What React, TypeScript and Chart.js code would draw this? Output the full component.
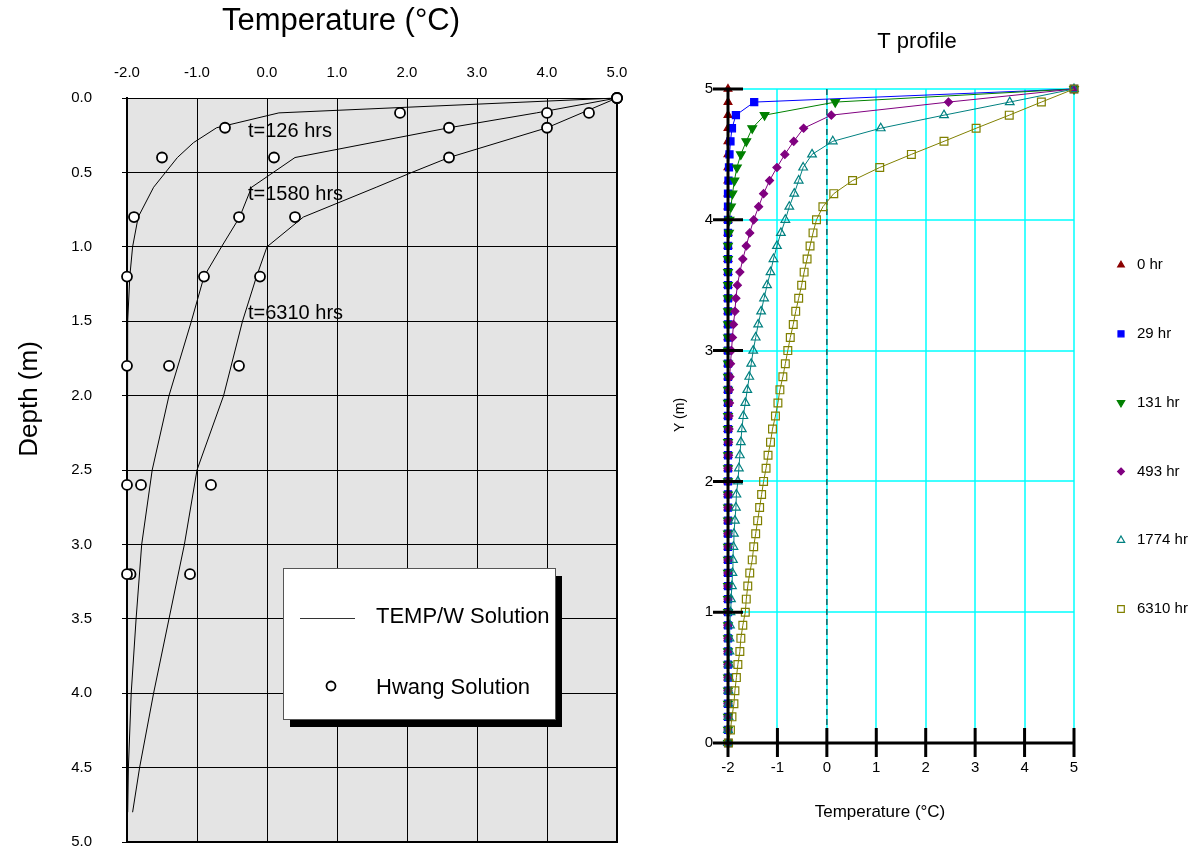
import React, { useEffect, useRef } from 'react';
import { Chart, registerables } from 'chart.js';

Chart.register(...registerables);

const FONT = "'Liberation Sans', Arial, Helvetica, sans-serif";

// ---------- Left panel data (TEMP/W vs Hwang) ----------
const temwDepth = [0, 0.1, 0.2, 0.3, 0.4, 0.5, 0.6, 0.8, 1.0, 1.2, 1.5, 2.0, 2.5, 3.0, 3.5, 4.0, 4.5, 4.8];
const temw126 = [5.0, 0.17, -0.72, -1.05, -1.28, -1.45, -1.62, -1.84, -1.92, -1.96, -1.99, -2.0, -2.0, -2.0, -2.0, -2.0, -2.0, -2.0];
const temw1580 = [5.0, 3.85, 2.6, 1.5, 0.4, 0.09, -0.22, -0.39, -0.65, -0.9, -1.08, -1.4, -1.64, -1.79, -1.87, -1.94, -1.98, -1.99];
const temw6310 = [5.0, 4.5, 4.0, 3.3, 2.6, 2.07, 1.56, 0.52, 0.0, -0.15, -0.35, -0.62, -1.0, -1.18, -1.4, -1.62, -1.82, -1.92];

const hwangDepth = [0.0, 0.1, 0.2, 0.4, 0.8, 1.2, 1.8, 2.6, 3.2];
const hwang126 = [5.0, 1.9, -0.6, -1.5, -1.9, -2.0, -2.0, -2.0, -2.0];
const hwang1580 = [5.0, 4.0, 2.6, 0.1, -0.4, -0.9, -1.4, -1.8, -1.95];
const hwang6310 = [5.0, 4.6, 4.0, 2.6, 0.4, -0.1, -0.4, -0.8, -1.1];

const leftCurveLabels = ['t=126 hrs', 't=1580 hrs', 't=6310 hrs'];
const leftLegendLabels = ['TEMP/W Solution', 'Hwang Solution'];

// ---------- Right panel data (T profile) ----------
const depthNodes = [0.0, 0.1, 0.2, 0.3, 0.4, 0.5, 0.6, 0.7, 0.8, 0.9, 1.0, 1.1, 1.2, 1.3, 1.4, 1.5, 1.6, 1.7, 1.8, 1.9, 2.0, 2.1, 2.2, 2.3, 2.4, 2.5, 2.6, 2.7, 2.8, 2.9, 3.0, 3.1, 3.2, 3.3, 3.4, 3.5, 3.6, 3.7, 3.8, 3.9, 4.0, 4.1, 4.2, 4.3, 4.4, 4.5, 4.6, 4.7, 4.8, 4.9, 5.0];

const temp0hr = [-2.0, -2.0, -2.0, -2.0, -2.0, -2.0, -2.0, -2.0, -2.0, -2.0, -2.0, -2.0, -2.0, -2.0, -2.0, -2.0, -2.0, -2.0, -2.0, -2.0, -2.0, -2.0, -2.0, -2.0, -2.0, -2.0, -2.0, -2.0, -2.0, -2.0, -2.0, -2.0, -2.0, -2.0, -2.0, -2.0, -2.0, -2.0, -2.0, -2.0, -2.0, -2.0, -2.0, -2.0, -2.0, -2.0, -2.0, -2.0, -2.0, -2.0, -2.0];
const temp29hr = [-2.0, -2.0, -2.0, -2.0, -2.0, -2.0, -2.0, -2.0, -2.0, -2.0, -2.0, -2.0, -2.0, -2.0, -2.0, -2.0, -2.0, -2.0, -2.0, -2.0, -2.0, -2.0, -2.0, -2.0, -2.0, -2.0, -2.0, -2.0, -2.0, -2.0, -2.0, -2.0, -2.0, -2.0, -2.0, -2.0, -2.0, -2.0, -2.0, -2.0, -2.0, -2.0, -2.0, -1.99, -1.98, -1.97, -1.95, -1.92, -1.84, -1.47, 5.0];
const temp131hr = [-2.0, -2.0, -2.0, -2.0, -2.0, -2.0, -2.0, -2.0, -2.0, -2.0, -2.0, -2.0, -2.0, -2.0, -2.0, -2.0, -2.0, -2.0, -2.0, -2.0, -2.0, -2.0, -2.0, -2.0, -2.0, -2.0, -2.0, -2.0, -2.0, -2.0, -2.0, -2.0, -2.0, -2.0, -2.0, -2.0, -2.0, -2.0, -2.0, -1.98, -1.97, -1.94, -1.91, -1.87, -1.82, -1.74, -1.63, -1.51, -1.26, 0.17, 5.0];
const temp493hr = [-2.0, -2.0, -2.0, -2.0, -2.0, -2.0, -2.0, -2.0, -2.0, -2.0, -2.0, -2.0, -2.0, -2.0, -2.0, -2.0, -2.0, -2.0, -2.0, -2.0, -2.0, -2.0, -1.99, -1.99, -1.98, -1.98, -1.97, -1.97, -1.96, -1.95, -1.93, -1.91, -1.89, -1.86, -1.84, -1.81, -1.76, -1.70, -1.63, -1.56, -1.48, -1.38, -1.28, -1.16, -1.01, -0.85, -0.67, -0.47, 0.09, 2.46, 5.0];
const temp1774hr = [-2.0, -2.0, -1.99, -1.99, -1.99, -1.98, -1.98, -1.97, -1.97, -1.96, -1.95, -1.94, -1.92, -1.91, -1.90, -1.89, -1.88, -1.86, -1.84, -1.83, -1.80, -1.78, -1.76, -1.74, -1.72, -1.69, -1.65, -1.61, -1.57, -1.53, -1.49, -1.44, -1.39, -1.33, -1.27, -1.21, -1.14, -1.08, -1.01, -0.93, -0.84, -0.76, -0.66, -0.57, -0.48, -0.30, 0.12, 1.09, 2.37, 3.70, 5.0];
const temp6310hr = [-1.99, -1.95, -1.92, -1.88, -1.86, -1.83, -1.80, -1.76, -1.74, -1.70, -1.65, -1.63, -1.60, -1.56, -1.51, -1.48, -1.44, -1.40, -1.36, -1.32, -1.28, -1.23, -1.19, -1.14, -1.10, -1.04, -0.99, -0.95, -0.89, -0.84, -0.79, -0.74, -0.68, -0.63, -0.57, -0.51, -0.46, -0.40, -0.34, -0.28, -0.21, -0.08, 0.14, 0.52, 1.07, 1.71, 2.37, 3.02, 3.69, 4.34, 5.0];

const seriesLabels = ['0 hr', '29 hr', '131 hr', '493 hr', '1774 hr', '6310 hr'];
const seriesValues = [temp0hr, temp29hr, temp131hr, temp493hr, temp1774hr, temp6310hr];

const tempTicksLeft = [-2, -1, 0, 1, 2, 3, 4, 5];

// ---------- helpers ----------
function toPoints(xs: number[], ys: number[]) {
  return xs.map((x, i) => ({ x, y: ys[i] }));
}

function drawMarker(ctx: CanvasRenderingContext2D, style: string, x: number, y: number, r: number, rotation: number, fill: string | null, stroke: string | null, lw: number) {
  ctx.save();
  ctx.beginPath();
  if (style === 'triangle') {
    let rad = (rotation * Math.PI) / 180;
    for (let i = 0; i < 3; i++) {
      const px = x + Math.sin(rad) * r;
      const py = y - Math.cos(rad) * r;
      if (i === 0) ctx.moveTo(px, py);
      else ctx.lineTo(px, py);
      rad += (2 * Math.PI) / 3;
    }
    ctx.closePath();
  } else if (style === 'rect') {
    const s = r * Math.SQRT1_2;
    ctx.rect(x - s, y - s, 2 * s, 2 * s);
  } else if (style === 'rectRot') {
    ctx.moveTo(x, y - r);
    ctx.lineTo(x + r, y);
    ctx.lineTo(x, y + r);
    ctx.lineTo(x - r, y);
    ctx.closePath();
  } else {
    ctx.arc(x, y, r, 0, Math.PI * 2);
  }
  if (fill) {
    ctx.fillStyle = fill;
    ctx.fill();
  }
  if (stroke) {
    ctx.strokeStyle = stroke;
    ctx.lineWidth = lw;
    ctx.stroke();
  }
  ctx.restore();
}

function text(ctx: CanvasRenderingContext2D, s: string, x: number, y: number, size: number, align: CanvasTextAlign = 'left', rotate = 0) {
  ctx.save();
  ctx.fillStyle = '#000';
  ctx.font = `${size}px ${FONT}`;
  ctx.textAlign = align;
  ctx.textBaseline = 'middle';
  ctx.translate(x, y);
  if (rotate) ctx.rotate(rotate);
  ctx.fillText(s, 0, 0);
  ctx.restore();
}

// ---------- left chart plugin ----------
const leftDecor = {
  id: 'leftDecor',
  beforeDraw(chart: any) {
    const { ctx, chartArea: a } = chart;
    ctx.save();
    ctx.fillStyle = '#e4e4e4';
    ctx.fillRect(a.left, a.top, a.right - a.left, a.bottom - a.top);
    ctx.restore();
  },
  beforeDatasetsDraw(chart: any) {
    const { ctx, chartArea: a } = chart;
    ctx.save();
    ctx.strokeStyle = '#000';
    ctx.lineWidth = 2;
    ctx.beginPath();
    ctx.moveTo(a.left, a.top);
    ctx.lineTo(a.left, a.bottom);
    ctx.lineTo(a.right, a.bottom);
    ctx.lineTo(a.right, a.top);
    ctx.stroke();
    ctx.restore();
  },
  afterDatasetsDraw(chart: any) {
    const { ctx, chartArea: a } = chart;
    // curve labels
    text(ctx, leftCurveLabels[0], a.left + 121, a.top + 33, 20);
    text(ctx, leftCurveLabels[1], a.left + 121, a.top + 96, 20);
    text(ctx, leftCurveLabels[2], a.left + 121, a.top + 215, 20);
    // legend box with shadow
    const bx = a.left + 156;
    const by = a.top + 470;
    const bw = 272;
    const bh = 151;
    ctx.save();
    ctx.fillStyle = '#000';
    ctx.fillRect(bx + 7, by + 8, bw, bh);
    ctx.fillStyle = '#fff';
    ctx.fillRect(bx, by, bw, bh);
    ctx.strokeStyle = '#555';
    ctx.lineWidth = 1;
    ctx.strokeRect(bx + 0.5, by + 0.5, bw, bh);
    ctx.strokeStyle = '#333';
    ctx.beginPath();
    ctx.moveTo(bx + 17, by + 50.5);
    ctx.lineTo(bx + 72, by + 50.5);
    ctx.stroke();
    ctx.restore();
    drawMarker(ctx, 'circle', bx + 48, by + 118, 4.5, 0, '#fff', '#000', 1.8);
    text(ctx, leftLegendLabels[0], bx + 93, by + 49, 22);
    text(ctx, leftLegendLabels[1], bx + 93, by + 120, 22);
  },
  afterDraw(chart: any) {
    const { ctx, chartArea: a } = chart;
    text(ctx, 'Temperature (°C)', a.left + 214, a.top - 77, 31, 'center');
    text(ctx, 'Depth (m)', a.left - 97, a.top + 301, 26, 'center', -Math.PI / 2);
  },
};

// ---------- right chart plugin ----------
const rightDecor = {
  id: 'rightDecor',
  beforeDatasetsDraw(chart: any) {
    const { ctx, chartArea: a, scales } = chart;
    const x0 = scales.x.getPixelForValue(0);
    ctx.save();
    ctx.strokeStyle = '#1f5e5e';
    ctx.lineWidth = 1.5;
    ctx.setLineDash([6, 4]);
    ctx.beginPath();
    ctx.moveTo(x0, a.top);
    ctx.lineTo(x0, a.bottom);
    ctx.stroke();
    ctx.restore();
  },
  afterDatasetsDraw(chart: any) {
    const { ctx, chartArea: a, scales } = chart;
    ctx.save();
    ctx.strokeStyle = '#000';
    ctx.lineWidth = 3;
    ctx.beginPath();
    ctx.moveTo(a.left, a.top - 1);
    ctx.lineTo(a.left, a.bottom + 14);
    ctx.moveTo(a.left, a.bottom);
    ctx.lineTo(a.right + 1, a.bottom);
    scales.y.ticks.forEach((t: any) => {
      const yy = scales.y.getPixelForValue(t.value);
      ctx.moveTo(a.left - 15, yy);
      ctx.lineTo(a.left + 15, yy);
    });
    scales.x.ticks.forEach((t: any) => {
      const xx = scales.x.getPixelForValue(t.value);
      ctx.moveTo(xx, a.bottom - 15);
      ctx.lineTo(xx, a.bottom + 14);
    });
    ctx.stroke();
    ctx.restore();
  },
  afterDraw(chart: any) {
    const { ctx, chartArea: a } = chart;
    text(ctx, 'T profile', a.left + 189, a.top - 47, 22, 'center');
    text(ctx, 'Temperature (°C)', a.left + 152, a.bottom + 69, 17, 'center');
    text(ctx, 'Y (m)', a.left - 48, a.top + 326, 14, 'center', -Math.PI / 2);
    // legend
    chart.data.datasets.forEach((ds: any, i: number) => {
      const y = a.top + 176 + i * 68.8;
      const filled = ds.pointBackgroundColor !== 'rgba(0,0,0,0)';
      drawMarker(ctx, ds.pointStyle, a.right + 47, y, ds.pointRadius * 0.85, ds.pointRotation || 0, filled ? ds.pointBackgroundColor : '#fff', ds.pointBorderColor, ds.pointBorderWidth);
      text(ctx, ds.label, a.right + 63, y, 15);
    });
  },
};

const CYAN = 'rgba(0,255,255,0.75)';

export default function App() {
  const leftRef = useRef<HTMLCanvasElement>(null);
  const rightRef = useRef<HTMLCanvasElement>(null);

  useEffect(() => {
    Chart.defaults.font.family = FONT;
    Chart.defaults.color = '#000';

    const lineStyle = { showLine: true, borderColor: '#000', borderWidth: 1, pointRadius: 0, clip: false as any, order: 2 };
    const circleStyle = { showLine: false, pointStyle: 'circle', pointRadius: 5, pointBackgroundColor: '#fff', pointBorderColor: '#000', pointBorderWidth: 1.8, clip: false as any, order: 1 };

    const left = new Chart(leftRef.current as HTMLCanvasElement, {
      type: 'scatter',
      data: {
        datasets: [
          { label: 'TEMP/W 126', data: toPoints(temw126, temwDepth), ...lineStyle },
          { label: 'TEMP/W 1580', data: toPoints(temw1580, temwDepth), ...lineStyle },
          { label: 'TEMP/W 6310', data: toPoints(temw6310, temwDepth), ...lineStyle },
          { label: 'Hwang 126', data: toPoints(hwang126, hwangDepth), ...circleStyle },
          { label: 'Hwang 1580', data: toPoints(hwang1580, hwangDepth), ...circleStyle },
          { label: 'Hwang 6310', data: toPoints(hwang6310, hwangDepth), ...circleStyle },
        ] as any,
      },
      options: {
        responsive: false,
        animation: false,
        events: [],
        layout: { padding: { left: 0, top: 0, right: 43, bottom: 9 } },
        plugins: { legend: { display: false }, tooltip: { enabled: false } },
        scales: {
          x: {
            type: 'linear',
            position: 'top',
            min: -2,
            max: 5,
            afterBuildTicks: (s: any) => {
              s.ticks = tempTicksLeft.map((v) => ({ value: v }));
            },
            ticks: { font: { size: 15 }, color: '#000', padding: 16, callback: (v: any) => Number(v).toFixed(1) },
            grid: { color: '#000', lineWidth: 1, drawTicks: false },
            border: { display: true, color: '#000', width: 1 },
            afterFit: (s: any) => {
              s.height = 98;
              s.paddingLeft = 0;
              s.paddingRight = 0;
            },
          },
          y: {
            type: 'linear',
            reverse: true,
            min: 0,
            max: 5,
            ticks: { stepSize: 0.5, font: { size: 15 }, color: '#000', padding: 30, callback: (v: any) => Number(v).toFixed(1) },
            grid: { color: '#000', lineWidth: 1, drawTicks: true, tickLength: 5, tickColor: '#000' },
            border: { display: true, color: '#000', width: 2 },
            afterFit: (s: any) => {
              s.width = 127;
              s.paddingTop = 0;
              s.paddingBottom = 0;
            },
          },
        },
      } as any,
      plugins: [leftDecor],
    });

    const rightStyles = [
      { pointStyle: 'triangle', pointRadius: 4.5, pointRotation: 0, filled: true, color: '#8b0000', order: 5 },
      { pointStyle: 'rect', pointRadius: 5, pointRotation: 0, filled: true, color: '#0000ff', order: 4 },
      { pointStyle: 'triangle', pointRadius: 5, pointRotation: 180, filled: true, color: '#008000', order: 3 },
      { pointStyle: 'rectRot', pointRadius: 4, pointRotation: 0, filled: true, color: '#800080', order: 2 },
      { pointStyle: 'triangle', pointRadius: 5, pointRotation: 0, filled: false, color: '#008080', order: 1 },
      { pointStyle: 'rect', pointRadius: 5.5, pointRotation: 0, filled: false, color: '#808000', order: 0 },
    ];

    const right = new Chart(rightRef.current as HTMLCanvasElement, {
      type: 'scatter',
      data: {
        datasets: seriesValues.map((vals, i) => {
          const st = rightStyles[i];
          return {
            label: seriesLabels[i],
            data: toPoints(vals, depthNodes),
            showLine: true,
            borderColor: st.color,
            borderWidth: 1,
            pointStyle: st.pointStyle,
            pointRadius: st.pointRadius,
            pointRotation: st.pointRotation,
            pointBackgroundColor: st.filled ? st.color : 'rgba(0,0,0,0)',
            pointBorderColor: st.color,
            pointBorderWidth: 1.2,
            clip: false,
            order: st.order,
          };
        }) as any,
      },
      options: {
        responsive: false,
        animation: false,
        events: [],
        layout: { padding: { left: 0, top: 89, right: 123, bottom: 0 } },
        plugins: { legend: { display: false }, tooltip: { enabled: false } },
        scales: {
          x: {
            type: 'linear',
            position: 'bottom',
            min: -2,
            max: 5,
            ticks: { stepSize: 1, font: { size: 15 }, color: '#000', padding: 16 },
            grid: {
              color: (c: any) => (c.tick && c.tick.value === -2 ? 'rgba(0,0,0,0)' : CYAN),
              lineWidth: 2,
              drawTicks: false,
            },
            border: { display: false },
            afterFit: (s: any) => {
              s.height = 108;
              s.paddingLeft = 0;
              s.paddingRight = 0;
            },
          },
          y: {
            type: 'linear',
            min: 0,
            max: 5,
            ticks: { stepSize: 1, font: { size: 15 }, color: '#000', padding: 15 },
            grid: {
              color: (c: any) => (c.tick && c.tick.value === 0 ? 'rgba(0,0,0,0)' : CYAN),
              lineWidth: 2,
              drawTicks: false,
            },
            border: { display: false },
            afterFit: (s: any) => {
              s.width = 68;
              s.paddingTop = 0;
              s.paddingBottom = 0;
            },
          },
        },
      } as any,
      plugins: [rightDecor],
    });

    return () => {
      left.destroy();
      right.destroy();
    };
  }, []);

  return (
    <div style={{ position: 'absolute', left: 0, top: 0, width: 1197, height: 851, overflow: 'hidden', background: '#fff' }}>
      <canvas ref={leftRef} width={660} height={851} style={{ position: 'absolute', left: 0, top: 0, width: 660, height: 851 }} />
      <canvas ref={rightRef} width={537} height={851} style={{ position: 'absolute', left: 660, top: 0, width: 537, height: 851 }} />
    </div>
  );
}
